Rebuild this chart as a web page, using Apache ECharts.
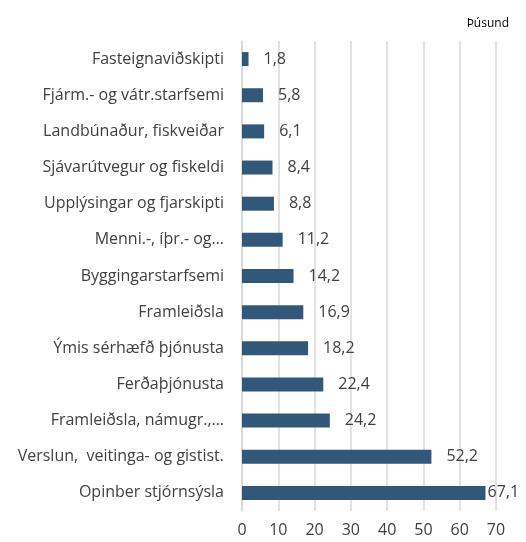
<!DOCTYPE html>
<html lang="is">
<head>
    <meta charset="UTF-8">
    <title>Þúsund</title>
    <style>
        html, body { margin: 0; padding: 0; background: #fff; }
        #chart { width: 526px; height: 542px; }
    </style>
</head>
<body>
    <div id="chart"></div>

    <script src="https://cdn.jsdelivr.net/npm/echarts@6/dist/echarts.min.js"></script>
    <script>
        // gögn lesin af myndinni
        var categories = [
            'Fasteignaviðskipti',
            'Fjárm.- og vátr.starfsemi',
            'Landbúnaður, fiskveiðar',
            'Sjávarútvegur og fiskeldi',
            'Upplýsingar og fjarskipti',
            'Menni.-, íþr.- og…',
            'Byggingarstarfsemi',
            'Framleiðsla',
            'Ýmis sérhæfð þjónusta',
            'Ferðaþjónusta',
            'Framleiðsla, námugr.,…',
            'Verslun,  veitinga- og gistist.',
            'Opinber stjórnsýsla'
        ];
        var values = [1.8, 5.8, 6.1, 8.4, 8.8, 11.2, 14.2, 16.9, 18.2, 22.4, 24.2, 52.2, 67.1];
        var xTicks = [0, 10, 20, 30, 40, 50, 60, 70];
        var unit = 'Þúsund';

        var font = 'Open Sans';
        var textColor = '#404040';

        let myChart = echarts.init(document.getElementById('chart'));

        var seriesData = values.map(function (v, i) {
            var item = { value: v };
            // síðasta merkið situr þétt við súluna
            if (i === values.length - 1) {
                item.label = { distance: 2 };
            }
            return item;
        });

        var option = {
            animation: false,
            title: {
                text: unit,
                right: 12,
                top: 13,
                textStyle: { fontFamily: font, fontSize: 12, fontWeight: 'normal', color: '#000' }
            },
            grid: { left: 242, right: 30, top: 41, height: 470 },
            xAxis: {
                type: 'value',
                min: xTicks[0],
                max: xTicks[xTicks.length - 1],
                interval: 10,
                axisLine: { show: false },
                axisTick: { show: false },
                splitLine: { lineStyle: { color: '#d9d9d9', width: 1.5 } },
                axisLabel: { fontFamily: font, fontSize: 16, color: textColor, margin: 11 }
            },
            yAxis: {
                type: 'category',
                data: categories,
                inverse: true,
                axisLine: { lineStyle: { color: '#d9d9d9', width: 1.5 } },
                axisTick: { show: false },
                axisLabel: { fontFamily: font, fontSize: 16, color: textColor, margin: 18 }
            },
            series: [{
                type: 'bar',
                data: seriesData,
                barWidth: 14,
                itemStyle: { color: '#335779' },
                label: {
                    show: true,
                    position: 'right',
                    distance: 15,
                    fontFamily: font,
                    fontSize: 16,
                    color: textColor,
                    formatter: function (p) { return String(p.value).replace('.', ','); }
                }
            }]
        };
        myChart.setOption(option);
    </script>
</body>
</html>
